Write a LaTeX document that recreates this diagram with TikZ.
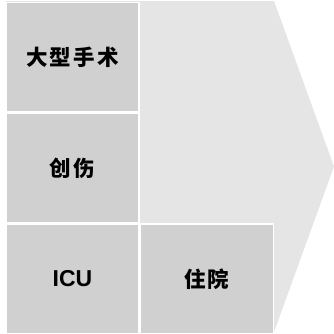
\documentclass[tikz,border=0pt]{standalone}
\usepackage{fontspec}
\setmainfont{Liberation Sans}
\newfontfamily\cjk[LetterSpace=10]{Noto Sans CJK SC}
\usetikzlibrary{positioning}
\definecolor{cellgray}{RGB}{208,208,208}
\definecolor{arrowgray}{RGB}{229,229,229}

\begin{document}
\begin{tikzpicture}[x=1pt,y=-1pt,node distance=0pt]
    \tikzstyle{cell}=[rectangle,fill=cellgray,draw=white,line width=1.2pt,minimum width=133pt,minimum height=109.7pt,inner sep=0pt,font=\bfseries]
    \tikzstyle{zh}=[cell,font=\cjk\bfseries\fontsize{21.5}{25}\selectfont]
    \tikzstyle{en}=[cell,font=\bfseries\fontsize{23}{27}\selectfont]

    \useasboundingbox (0,0) rectangle (334,333);

    % the big arrow behind
    \coordinate (A-nw) at (6,1);
    \coordinate (A-ne) at (274,1);
    \coordinate (A-tip) at (334,166.5);
    \coordinate (A-se) at (274,332);
    \coordinate (A-sw) at (6,332);
    \fill[arrowgray] (A-nw) -- (A-ne) -- (A-tip) -- (A-se) -- (A-sw) -- cycle;

    \node[zh] (C-1) at (72.5,57) {大型手术};
    \node[zh, below=of C-1] (C-2) {创伤};
    \node[en, below=of C-2] (C-3) {ICU};
    \node[zh, right=of C-3] (C-4) {住院};
\end{tikzpicture}
\end{document}
